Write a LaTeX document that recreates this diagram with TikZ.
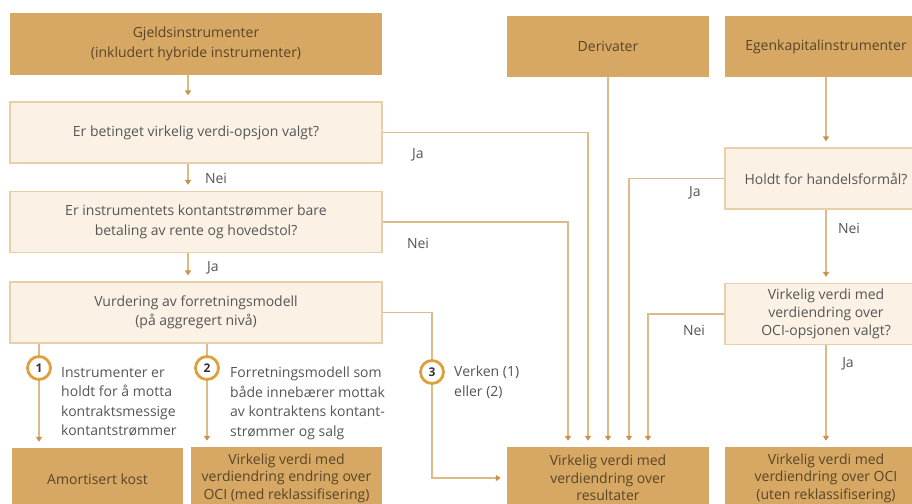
\documentclass[tikz,border=0pt]{standalone}
\usepackage{fontspec}
\setmainfont{Open Sans}
\usepackage{tikz}
\usetikzlibrary{arrows.meta,positioning}
\definecolor{gold}{HTML}{D6A863}
\definecolor{cream}{HTML}{FBF2E5}
\definecolor{rim}{HTML}{E7D0A8}
\definecolor{wire}{HTML}{DDBA86}
\definecolor{tip}{HTML}{C8924A}
\definecolor{ring}{HTML}{DCA13C}
\definecolor{ink}{HTML}{555555}
\definecolor{deep}{HTML}{5A4528}

\begin{document}
\begin{tikzpicture}[x=1pt, y=-1pt, every node/.style={font=\fontsize{14}{19.5}\selectfont, text=ink}, box/.style={minimum height=61pt, inner sep=0pt, align=center}, dark/.style={box, fill=gold, text=deep}, light/.style={box, fill=cream, draw=rim, line width=1.2pt}, outcome/.style={dark, minimum height=62pt, font=\fontsize{14}{17.5}\selectfont}, arr/.style={-{Triangle[width=6pt,length=5pt,color=tip]}, line width=1.2pt, draw=wire, shorten >=6pt}, num/.style={circle, draw=ring, line width=2.8pt, fill=white, minimum size=23pt, inner sep=0pt, font=\fontsize{12}{12}\selectfont\bfseries, text=black!80}, note/.style={anchor=north west, align=left, inner sep=0pt}, lbl/.style={inner sep=0pt}]
\useasboundingbox (0,0) rectangle (912,503);
\clip (0,0) rectangle (912,503);
% left column: debt instruments
\node[dark, minimum width=372pt] (gjeld) at (196,44) {Gjeldsinstrumenter\\(inkludert hybride instrumenter)};
\node[light, minimum width=372pt] (betinget) at (196,132.5) {Er betinget virkelig verdi-opsjon valgt?};
\node[light, minimum width=372pt] (kontant) at (196,222) {Er instrumentets kontantstrømmer bare\\betaling av rente og hovedstol?};
\node[light, minimum width=372pt] (vurdering) at (196,312.5) {Vurdering av forretningsmodell\\(på aggregert nivå)};
% right columns: derivatives and equity
\node[dark, minimum width=202pt] (derivater) at (608,46.5) {Derivater};
\node[dark, minimum width=202pt] (egenkap) at (826,46.5) {Egenkapitalinstrumenter};
\node[light, minimum width=202pt] (handel) at (826,178.5) {Holdt for handelsformål?};
\node[light, minimum width=202pt, font=\fontsize{14}{18}\selectfont] (ociopsjon) at (826,314) {Virkelig verdi med\\verdiendring over\\OCI-opsjonen valgt?};
% bottom row: outcomes
\node[outcome, minimum width=171pt] (amort) at (97.5,479) {Amortisert kost};
\node[outcome, minimum width=191pt] (ocimed) at (286.5,478) {Virkelig verdi med\\verdiendring endring over\\OCI (med reklassifisering)};
\node[outcome, minimum width=202pt] (resultat) at (608,478) {Virkelig verdi med\\verdiendring over\\resultater};
\node[outcome, minimum width=202pt] (ociuten) at (826,478) {Virkelig verdi med\\verdiendring over OCI\\(uten reklassifisering)};
% down the left column
\draw[arr] ([xshift=-8pt]gjeld.south) -- ([xshift=-8pt]betinget.north);
\draw[arr] ([xshift=-8pt]betinget.south) -- ([xshift=-8pt]kontant.north);
\draw[arr] ([xshift=-8pt]kontant.south) -- ([xshift=-8pt]vurdering.north);
\node[lbl] (nei1) at (216,178) {Nei};
\node[lbl] (ja1) at (213,268) {Ja};
% everything that ends in the profit-and-loss box
\draw[arr] (betinget.east) -| ([xshift=-20pt]resultat.north);
\draw[arr] (kontant.east) -| ([xshift=-40pt]resultat.north);
\draw[arr] (derivater.south) -- (resultat.north);
\draw[arr] (handel.west) -| ([xshift=21pt]resultat.north);
\draw[arr] (ociopsjon.west) -| ([xshift=40pt]resultat.north);
\node[lbl] (ja2) at (418,155) {Ja};
\node[lbl] (nei2) at (418,243) {Nei};
\node[lbl] (ja3) at (695,193) {Ja};
\node[lbl] (nei3) at (694,330) {Nei};
% equity column
\draw[arr] (egenkap.south) -- (handel.north);
\draw[arr] (handel.south) -- (ociopsjon.north);
\draw[arr] (ociopsjon.south) -- (ociuten.north);
\node[lbl] (nei4) at (849,228) {Nei};
\node[lbl] (ja4) at (848,364) {Ja};
% business model branches 1, 2, 3
\coordinate (p1) at (39,368);
\coordinate (p2) at (207,368);
\coordinate (p3) at (432,372);
\coordinate (knee) at (p3 |- resultat.west);
\draw[arr] (vurdering.south -| p1) -- (amort.north -| p1);
\draw[arr] (vurdering.south -| p2) -- (ocimed.north -| p2);
\draw[arr] (vurdering.east) -| (knee) -- (resultat.west);
\node[num] (n1) at (p1) {1};
\node[num] (n2) at (p2) {2};
\node[num] (n3) at (p3) {3};
\node[note] (t1) at (61,367) {Instrumenter er\\holdt for å motta\\kontraktsmessige\\kontantstrømmer};
\node[note] (t2) at (230,367) {Forretningsmodell som\\både innebærer mottak\\av kontraktens kontant-\\strømmer og salg};
\node[note] (t3) at (454,366) {Verken (1)\\eller (2)};
\end{tikzpicture}
\end{document}
